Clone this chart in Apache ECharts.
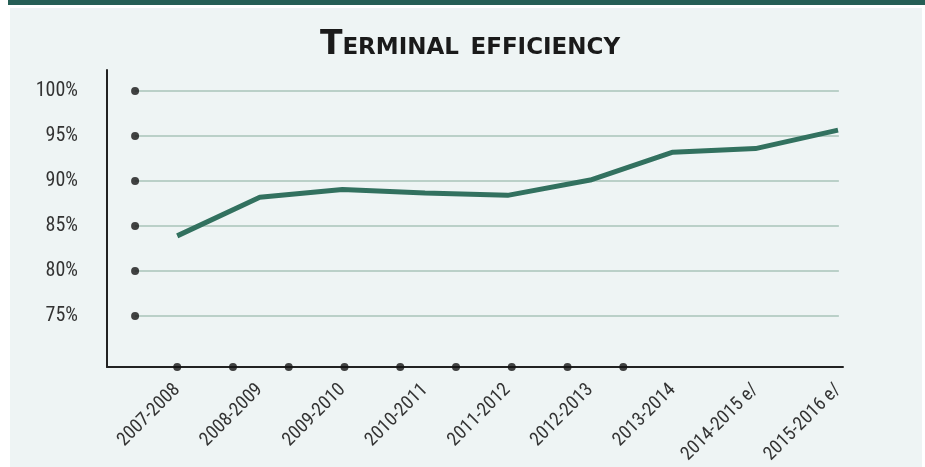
<!DOCTYPE html>
<html>
<head>
<meta charset="utf-8">
<script src="https://cdn.jsdelivr.net/npm/echarts@6/dist/echarts.min.js"></script>
<style>
  html, body { margin: 0; padding: 0; background: #fff; }
  #band { position: absolute; left: 8px; top: 0; width: 917px; height: 5px; background: #255e55; }
  #panel { position: absolute; left: 10px; top: 8px; width: 912px; height: 459px; background: #eef4f4; }
  #chart { position: absolute; left: 0; top: 0; width: 925px; height: 467px; }
</style>
</head>
<body>
<div id="band"></div>
<div id="panel"></div>
<div id="chart"></div>
<script>
// 数据
const categories = ['2007-2008', '2008-2009', '2009-2010', '2010-2011', '2011-2012',
  '2012-2013', '2013-2014', '2014-2015 e/', '2015-2016 e/']
const efficiency = [83.9, 88.2, 89.05, 88.65, 88.4, 90.1, 93.2, 93.6, 95.65]
const yTicks = [75, 80, 85, 90, 95, 100]
// x 轴上的装饰圆点（以类目序号为单位）
const xDots = [0, 0.675, 1.35, 2.025, 2.7, 3.375, 4.05, 4.725, 5.4]

const xMin = -0.85, xMax = 8.06
const yMin = 69.33, yMax = 102.33
const dotX = -0.51   // 左侧圆点列
const gridEnd = 8.01

const labelFont = '"Roboto Condensed", "DejaVu Sans Condensed", "Liberation Sans Narrow", Roboto, sans-serif'

const chart = echarts.init(document.getElementById('chart'))

const option = {
  backgroundColor: 'transparent',
  animation: false,
  title: {
    text: 'Terminal efficiency',
    left: 465,
    textAlign: 'center',
    top: 24,
    textStyle: {
      fontFamily: '"DejaVu Sans", sans-serif',
      fontStyle: 'small-caps',
      fontWeight: 'bold',
      fontSize: 33,
      color: '#1a1a1a'
    }
  },
  grid: { left: 107, right: 82, top: 70, bottom: 100 },
  xAxis: {
    type: 'value',
    min: xMin,
    max: xMax,
    splitLine: { show: false },
    axisTick: { show: false },
    axisLine: { show: true, onZero: false, lineStyle: { color: '#222', width: 2 } },
    axisLabel: {
      customValues: categories.map((c, i) => i),
      formatter: v => categories[Math.round(v)],
      rotate: 45,
      margin: 20,
      fontFamily: labelFont,
      fontSize: 19,
      color: '#333'
    }
  },
  yAxis: {
    type: 'value',
    min: yMin,
    max: yMax,
    splitLine: { show: false },
    axisTick: { show: false },
    axisLine: { show: true, onZero: false, lineStyle: { color: '#222', width: 2 } },
    axisLabel: {
      customValues: yTicks,
      formatter: v => v + '%',
      margin: 29,
      fontFamily: labelFont,
      fontSize: 20,
      color: '#333'
    }
  },
  series: [
    // 网格线
    ...yTicks.map(v => ({
      type: 'line',
      data: [[dotX, v], [gridEnd, v]],
      symbol: 'none',
      silent: true,
      lineStyle: { color: '#a9c4ba', width: 1.5 },
      z: 1
    })),
    {
      type: 'scatter',
      data: yTicks.map(v => [dotX, v]),
      symbolSize: 8,
      itemStyle: { color: '#141414' },
      z: 3
    },
    {
      type: 'scatter',
      data: xDots.map(x => [x, yMin]),
      symbolSize: 8,
      itemStyle: { color: '#141414' },
      clip: false,
      z: 5
    },
    {
      type: 'line',
      name: 'Terminal efficiency',
      data: efficiency.map((v, i) => [i, v]),
      symbol: 'none',
      lineStyle: { color: '#32715f', width: 5 },
      z: 4
    }
  ]
}

chart.setOption(option)
</script>
</body>
</html>
